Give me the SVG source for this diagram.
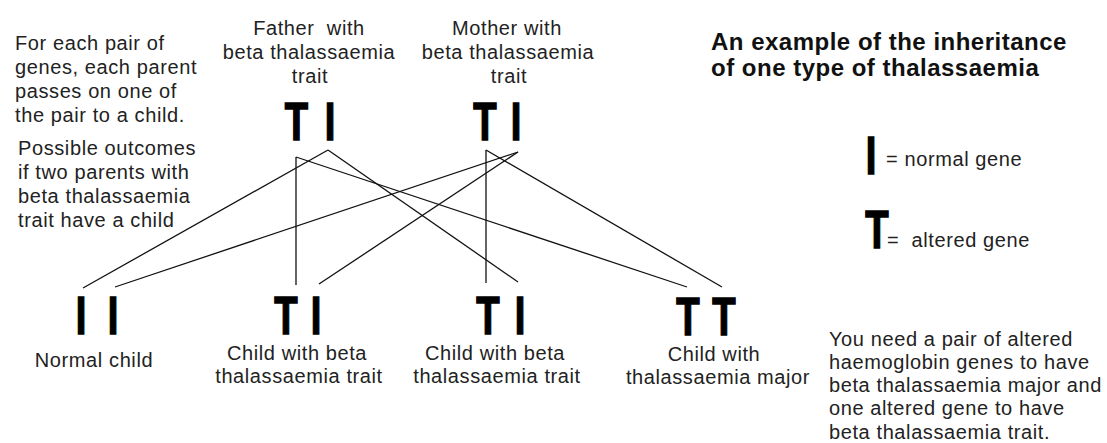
<svg xmlns="http://www.w3.org/2000/svg" width="1107" height="443" viewBox="0 0 1107 443">
<style>
.t{font-family:"Liberation Sans",Arial,sans-serif;font-size:20px;letter-spacing:0.6px;fill:#222;white-space:pre}
.c{text-anchor:middle}
.h{font-family:"Liberation Sans",Arial,sans-serif;font-size:24px;font-weight:bold;letter-spacing:0.5px;fill:#111}
.g{font-family:"Liberation Sans",Arial,sans-serif;font-size:53px;font-weight:bold;fill:#000;stroke:#000;stroke-width:1.6;text-anchor:middle}
.ln{stroke:#111;stroke-width:1.3;fill:none}
</style>
<rect width="1107" height="443" fill="#fff"/>

<g id="connectors">
<line class="ln" x1="296" y1="157" x2="296" y2="285"/>
<line class="ln" x1="296" y1="157" x2="687" y2="287"/>
<line class="ln" x1="328" y1="150" x2="83" y2="288"/>
<line class="ln" x1="328" y1="150" x2="518" y2="282"/>
<line class="ln" x1="486" y1="150" x2="486" y2="283"/>
<line class="ln" x1="486" y1="150" x2="722" y2="287"/>
<line class="ln" x1="518" y1="152" x2="115" y2="287"/>
<line class="ln" x1="518" y1="152" x2="319" y2="284"/>
</g>

<g id="notes-left">
<text class="t" x="15" y="50">For each pair of</text>
<text class="t" x="15" y="74">genes, each parent</text>
<text class="t" x="15" y="98">passes on one of</text>
<text class="t" x="15" y="122">the pair to a child.</text>
<text class="t" x="18" y="155">Possible outcomes</text>
<text class="t" x="18" y="179">if two parents with</text>
<text class="t" x="18" y="203">beta thalassaemia</text>
<text class="t" x="18" y="227">trait have a child</text>
</g>

<g id="title">
<text class="h" x="711" y="50">An example of the inheritance</text>
<text class="h" x="711" y="76">of one type of thalassaemia</text>
</g>

<g id="father">
<text class="t c" x="309" y="35">Father  with</text>
<text class="t c" x="309" y="59">beta thalassaemia</text>
<text class="t c" x="310" y="83">trait</text>
<text class="g" transform="translate(296.5,140) scale(0.72,1)">T</text>
<text class="g" transform="translate(330,140) scale(0.72,1)">I</text>
</g>

<g id="mother">
<text class="t c" x="507" y="35">Mother with</text>
<text class="t c" x="508" y="59">beta thalassaemia</text>
<text class="t c" x="509" y="83">trait</text>
<text class="g" transform="translate(485,140) scale(0.72,1)">T</text>
<text class="g" transform="translate(516,140) scale(0.72,1)">I</text>
</g>

<g id="child-normal">
<text class="g" transform="translate(81,334) scale(0.72,1)">I</text>
<text class="g" transform="translate(113,334) scale(0.72,1)">I</text>
<text class="t c" x="94" y="367">Normal child</text>
</g>

<g id="child-trait-1">
<text class="g" transform="translate(286,334) scale(0.72,1)">T</text>
<text class="g" transform="translate(316,334) scale(0.72,1)">I</text>
<text class="t c" x="297" y="360">Child with beta</text>
<text class="t c" x="299" y="383">thalassaemia trait</text>
</g>

<g id="child-trait-2">
<text class="g" transform="translate(488,334) scale(0.72,1)">T</text>
<text class="g" transform="translate(520,334) scale(0.72,1)">I</text>
<text class="t c" x="495" y="360">Child with beta</text>
<text class="t c" x="497" y="383">thalassaemia trait</text>
</g>

<g id="child-major">
<text class="g" transform="translate(688,335) scale(0.72,1)">T</text>
<text class="g" transform="translate(724,335) scale(0.72,1)">T</text>
<text class="t c" x="714" y="361">Child with</text>
<text class="t c" x="718" y="384">thalassaemia major</text>
</g>

<g id="legend">
<text class="g" transform="translate(871,174) scale(0.72,1)">I</text>
<text class="t" x="886" y="166">= normal gene</text>
<text class="g" transform="translate(877,248) scale(0.72,1)">T</text>
<text class="t" x="887" y="247">=  altered gene</text>
</g>

<g id="notes-right">
<text class="t" x="829" y="346">You need a pair of altered</text>
<text class="t" x="829" y="369">haemoglobin genes to have</text>
<text class="t" x="829" y="392">beta thalassaemia major and</text>
<text class="t" x="829" y="415">one altered gene to have</text>
<text class="t" x="829" y="439">beta thalassaemia trait.</text>
</g>
</svg>
